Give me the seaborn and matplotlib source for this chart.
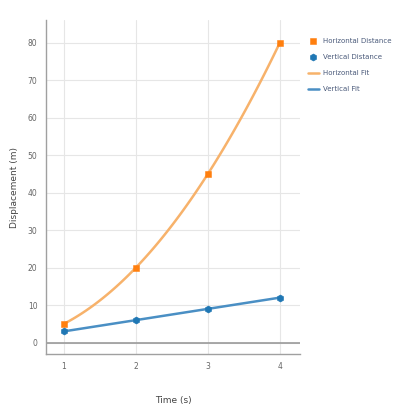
import numpy as np
import pandas as pd
import matplotlib
matplotlib.use("Agg")
import matplotlib.pyplot as plt
import seaborn as sns

# data
time_s = [1, 2, 3, 4]
horizontal_m = [5, 20, 45, 80]
vertical_m = [3, 6, 9, 12]
y_ticks = [0, 10, 20, 30, 40, 50, 60, 70, 80]

sns.set_theme(style="white")
plt.rcParams['font.family'] = ['DejaVu Sans']

orange = "#ff7f0e"
blue = "#1f77b4"
orange_fit = "#f7b26b"
blue_fit = "#4a8fc4"

# fits (quadratic for horizontal, linear for vertical)
t_fine = np.linspace(1, 4, 100)
h_fit = np.polyval(np.polyfit(time_s, horizontal_m, 2), t_fine)
v_fit = np.polyval(np.polyfit(time_s, vertical_m, 1), t_fine)

pts = pd.DataFrame({"t": time_s, "h": horizontal_m, "v": vertical_m})
fit = pd.DataFrame({"t": t_fine, "h": h_fit, "v": v_fit})

fig = plt.figure(figsize=(3.99, 4.11), dpi=100)
ax = fig.add_axes([0.115, 0.139, 0.637, 0.812])

sns.lineplot(data=fit, x="t", y="h", ax=ax, color=orange_fit, lw=1.8, label="Horizontal Fit", zorder=3)
sns.lineplot(data=fit, x="t", y="v", ax=ax, color=blue_fit, lw=1.8, label="Vertical Fit", zorder=3)
sns.scatterplot(data=pts, x="t", y="h", ax=ax, color=orange, marker="s", s=22, edgecolor=orange,
                label="Horizontal Distance", zorder=4)
sns.scatterplot(data=pts, x="t", y="v", ax=ax, color=blue, marker="h", s=26, edgecolor=blue,
                label="Vertical Distance", zorder=4)

ax.set_xlim(0.75, 4.28)
ax.set_ylim(-3, 86)
ax.set_xticks(time_s)
ax.set_yticks(y_ticks)
ax.grid(True, color="#e6e6e6", lw=0.8)
ax.axhline(0, color="#9a9a9a", lw=1.2, zorder=2)
for side in ["top", "right"]:
    ax.spines[side].set_visible(False)
for side in ["left", "bottom"]:
    ax.spines[side].set_color("#a0a0a0")
    ax.spines[side].set_linewidth(1.0)
ax.tick_params(axis="both", labelsize=5.5, colors="#666666", length=0, pad=6)

ax.set_xlabel("Time (s)", fontsize=6.5, color="#444444", labelpad=18)
ax.set_ylabel("Displacement (m)", fontsize=6.5, color="#444444", labelpad=6)

handles, labels = ax.get_legend_handles_labels()
order = [2, 3, 0, 1]
ax.legend([handles[i] for i in order], [labels[i] for i in order],
          loc="upper left", bbox_to_anchor=(1.02, 0.955), frameon=False,
          fontsize=5, labelcolor="#4a5a7a", handlelength=1.6, handletextpad=0.6,
          labelspacing=1.45, borderaxespad=0)

fig.savefig("out.png", dpi=100)
